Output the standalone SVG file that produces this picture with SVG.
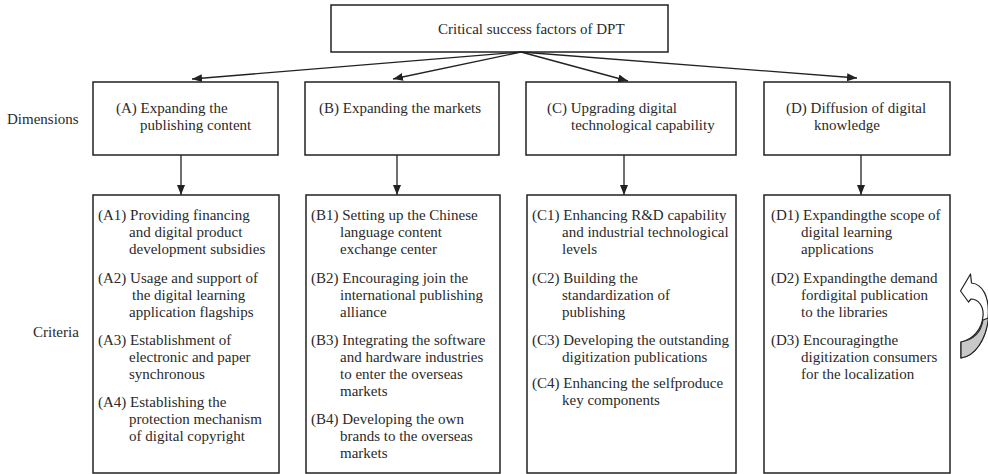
<svg xmlns="http://www.w3.org/2000/svg" width="988" height="474" viewBox="0 0 988 474">
<style>
  .box { fill: #fff; stroke: #222; stroke-width: 1.5; }
  .t { font-family: "Liberation Serif", "Times New Roman", serif; font-size: 15px; fill: #2a2a2a; }
  .conn { stroke: #222; stroke-width: 1.3; fill: none; marker-end: url(#ah); }
</style>
<defs>
  <marker id="ah" markerUnits="userSpaceOnUse" markerWidth="10" markerHeight="8" refX="10" refY="4" orient="auto">
    <path d="M0,0 L10,4 L0,8 z" fill="#222"/>
  </marker>
</defs>
<rect width="988" height="474" fill="#fff"/>

<g id="root">
  <rect class="box" x="331" y="5" width="337" height="47"/>
  <text class="t" x="438" y="34">Critical success factors of DPT</text>
</g>

<g id="labels">
  <text class="t" x="7" y="124">Dimensions</text>
  <text class="t" x="33" y="337">Criteria</text>
</g>

<g id="dimA">
  <rect class="box" x="93" y="82" width="185" height="73"/>
  <text class="t" x="116" y="113">(A) Expanding the</text>
  <text class="t" x="140" y="130">publishing content</text>
</g>
<g id="dimB">
  <rect class="box" x="305" y="82" width="194" height="73"/>
  <text class="t" x="319" y="113">(B) Expanding the markets</text>
</g>
<g id="dimC">
  <rect class="box" x="526" y="82" width="210" height="73"/>
  <text class="t" x="547" y="113">(C) Upgrading digital</text>
  <text class="t" x="571" y="130">technological capability</text>
</g>
<g id="dimD">
  <rect class="box" x="764" y="82" width="186" height="73"/>
  <text class="t" x="786" y="113">(D) Diffusion of digital</text>
  <text class="t" x="814" y="130">knowledge</text>
</g>

<g id="critA">
  <rect class="box" x="93" y="195" width="186" height="278"/>
  <text class="t" x="98" y="220">(A1) Providing financing</text>
  <text class="t" x="129" y="237">and digital product</text>
  <text class="t" x="129" y="254">development subsidies</text>
  <text class="t" x="98" y="282.5">(A2) Usage and support of</text>
  <text class="t" x="132" y="299.5">the digital learning</text>
  <text class="t" x="129" y="316.5">application flagships</text>
  <text class="t" x="98" y="345">(A3) Establishment of</text>
  <text class="t" x="129" y="362">electronic and paper</text>
  <text class="t" x="129" y="379">synchronous</text>
  <text class="t" x="98" y="407">(A4) Establishing the</text>
  <text class="t" x="129" y="424">protection mechanism</text>
  <text class="t" x="129" y="441">of digital copyright</text>
</g>
<g id="critB">
  <rect class="box" x="306" y="195" width="194" height="278"/>
  <text class="t" x="311" y="220">(B1) Setting up the Chinese</text>
  <text class="t" x="340" y="237">language content</text>
  <text class="t" x="340" y="254">exchange center</text>
  <text class="t" x="311" y="282.5">(B2) Encouraging join the</text>
  <text class="t" x="340" y="299.5">international publishing</text>
  <text class="t" x="340" y="316.5">alliance</text>
  <text class="t" x="311" y="345">(B3) Integrating the software</text>
  <text class="t" x="340" y="362">and hardware industries</text>
  <text class="t" x="340" y="379">to enter the overseas</text>
  <text class="t" x="340" y="396">markets</text>
  <text class="t" x="311" y="424">(B4) Developing the own</text>
  <text class="t" x="340" y="441">brands to the overseas</text>
  <text class="t" x="340" y="458">markets</text>
</g>
<g id="critC">
  <rect class="box" x="527" y="195" width="209" height="278"/>
  <text class="t" x="532" y="220">(C1) Enhancing R&amp;D capability</text>
  <text class="t" x="562" y="237">and industrial technological</text>
  <text class="t" x="562" y="254">levels</text>
  <text class="t" x="532" y="282.5">(C2) Building the</text>
  <text class="t" x="562" y="299.5">standardization of</text>
  <text class="t" x="562" y="316.5">publishing</text>
  <text class="t" x="532" y="345">(C3) Developing the outstanding</text>
  <text class="t" x="562" y="362">digitization publications</text>
  <text class="t" x="532" y="388">(C4) Enhancing the selfproduce</text>
  <text class="t" x="562" y="405">key components</text>
</g>
<g id="critD">
  <rect class="box" x="764" y="195" width="186" height="278"/>
  <text class="t" x="771" y="220">(D1) Expandingthe scope of</text>
  <text class="t" x="801" y="237">digital learning</text>
  <text class="t" x="801" y="254">applications</text>
  <text class="t" x="771" y="282.5">(D2) Expandingthe demand</text>
  <text class="t" x="801" y="299.5">fordigital publication</text>
  <text class="t" x="801" y="316.5">to the libraries</text>
  <text class="t" x="771" y="345">(D3) Encouragingthe</text>
  <text class="t" x="801" y="362">digitization consumers</text>
  <text class="t" x="801" y="379">for the localization</text>
</g>

<g id="connectors">
  <line class="conn" x1="521" y1="52" x2="192" y2="79"/>
  <line class="conn" x1="521" y1="52" x2="393" y2="79"/>
  <line class="conn" x1="521" y1="52" x2="628" y2="81"/>
  <line class="conn" x1="521" y1="52" x2="857" y2="78"/>
  <line class="conn" x1="181" y1="155" x2="181" y2="195"/>
  <line class="conn" x1="397" y1="155" x2="397" y2="195"/>
  <line class="conn" x1="624" y1="155" x2="624" y2="195"/>
  <line class="conn" x1="861" y1="155" x2="861" y2="195"/>
</g>

<g id="cycle-arrow">
  <path d="M960.5,291 L970.5,274 L971.5,283 C982,284 990,296 988,318 C986,340 975,356 961,358 L961,342 C972,340 982,330 983,316 C984,306 978,299 971,299 L968.5,302 Z" fill="#fff" stroke="#222" stroke-width="1.2" stroke-linejoin="round"/>
  <path d="M961,342 C972,340 981,333 983,320 L988.5,318 C986,340 975,356 961,358 Z" fill="#c8c8c8" stroke="#222" stroke-width="1.2" stroke-linejoin="round"/>
</g>
</svg>
